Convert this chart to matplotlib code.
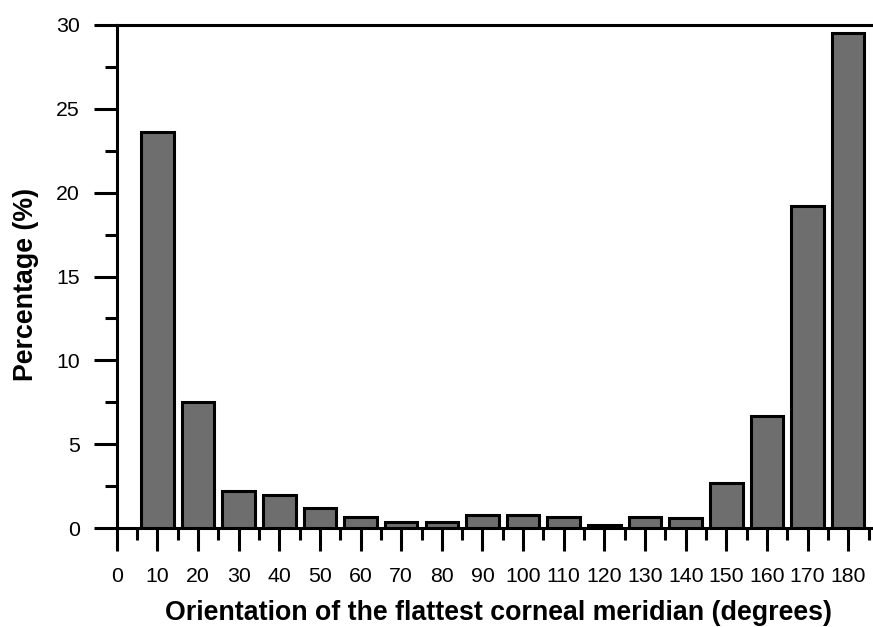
import numpy as np
import matplotlib
matplotlib.use("Agg")
import matplotlib.pyplot as plt
from matplotlib.ticker import MultipleLocator

plt.rcParams['font.family'] = ['Liberation Sans', 'DejaVu Sans']

# orientation bins (degrees) and share of eyes (%)
orientation = [10, 20, 30, 40, 50, 60, 70, 80, 90, 100, 110, 120, 130, 140, 150, 160, 170, 180]
percentage = [23.6, 7.5, 2.2, 2.0, 1.2, 0.7, 0.4, 0.4, 0.8, 0.8, 0.7, 0.2, 0.7, 0.6, 2.7, 6.7, 19.2, 29.5]
xticks = list(range(0, 181, 10))

fig = plt.figure(figsize=(8.73, 6.27), dpi=100)
ax = fig.add_axes([0.1337, 0.1574, 0.8663, 0.8032])

ax.bar(orientation, percentage, width=8.0, color='#6e6e6e', edgecolor='black', linewidth=2.2, zorder=3)

ax.set_xlim(0, 186.1)
ax.set_ylim(0, 30)
ax.set_xticks(xticks)
ax.xaxis.set_minor_locator(MultipleLocator(5))
ax.set_yticks([0, 5, 10, 15, 20, 25, 30])
ax.yaxis.set_minor_locator(MultipleLocator(2.5))

for side in ['left', 'bottom', 'top']:
	ax.spines[side].set_linewidth(2.2)
ax.spines['right'].set_visible(False)

ax.tick_params(which='major', direction='out', length=16.6, width=2.2, labelsize=15.3)
ax.tick_params(which='minor', direction='out', length=8.8, width=2.2)
ax.tick_params(axis='y', pad=10)
ax.tick_params(axis='x', pad=11)
ax.tick_params(top=False, which='both')

ax.set_xlabel("Orientation of the flattest corneal meridian (degrees)", fontsize=19.3, fontweight='bold')
ax.set_ylabel("Percentage (%)", fontsize=19.3, fontweight='bold')
# label anchors in axes coords (x label: top edge, y label: right edge)
ax.xaxis.set_label_coords(0.505, -0.143)
ax.yaxis.set_label_coords(-0.103, 0.484)

fig.savefig("out.png", dpi=100)
